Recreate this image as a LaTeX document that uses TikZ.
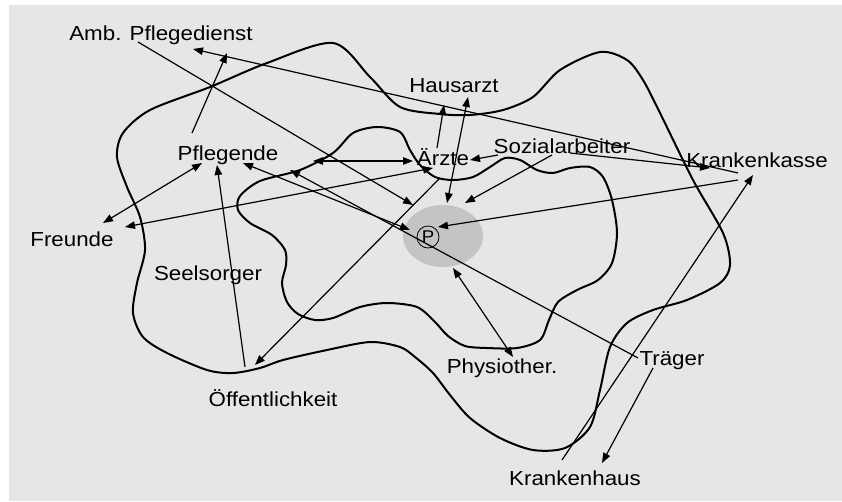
\documentclass[tikz,border=0pt]{standalone}
\usepackage{fontspec}
\setmainfont{Liberation Sans}[FakeStretch=1.1]
\usetikzlibrary{arrows.meta}
\definecolor{bg}{HTML}{E6E6E6}
\definecolor{pgray}{HTML}{C4C4C4}
\begin{document}
\begin{tikzpicture}[x=1pt,y=-1pt,
  lbl/.style={anchor=base, inner sep=0pt, font=\fontsize{20.3}{24}\selectfont},
  conn/.style={line width=1.2pt, -{Triangle[length=10pt,width=7.5pt]}},
  both/.style={line width=1.2pt, {Triangle[length=10pt,width=7.5pt]}-{Triangle[length=10pt,width=7.5pt]}},
  curve/.style={line width=2pt, line join=round}]
\useasboundingbox (0,0) rectangle (842,501);
\fill[white] (0,0) rectangle (842,501);
\fill[bg] (9,5) rectangle (842,501);

% patient area
\fill[pgray] (443,236) ellipse [x radius=40pt, y radius=31pt];

% outer boundary
\draw[curve] plot[smooth cycle] coordinates {
 (333,43) (370,77) (400,107) (440,114) (470,115) (503,110) (533,97) (560,70)
 (600,52) (627,60) (643,80) (660,113) (693,180) (723,233) (730,265) (720,283)
 (687,300) (653,310) (627,323) (610,347) (600,390) (590,427) (565,448) (533,450)
 (500,438) (470,418) (450,395) (433,373) (415,357) (400,347) (370,342) (327,350)
 (283,360) (260,368) (233,373) (207,370) (167,353) (143,337) (133,313) (137,283)
 (145,250) (140,217) (127,187) (117,157) (123,133) (150,110) (210,87) (267,63)};

% inner boundary
\draw[curve] plot[smooth cycle] coordinates {
 (377,127) (400,132) (410,150) (420,165) (435,177) (453,180) (473,177) (490,167)
 (505,158) (520,160) (537,170) (553,173) (570,168) (590,167) (603,177) (612,200)
 (617,233) (612,263) (598,280) (577,290) (558,302) (549,320) (540,340) (517,348)
 (487,348) (465,346) (448,336) (435,322) (417,307) (387,303) (360,307) (333,318)
 (315,320) (298,314) (287,302) (282,283) (286,265) (285,250) (272,235) (250,223)
 (238,210) (240,196) (260,181) (300,170) (333,153) (353,133)};

% labels
\node[lbl] (amb) at (161,40.5) {Amb. Pflegedienst};
\node[lbl] (haus) at (454,92) {Hausarzt};
\node[lbl] (pfl) at (228,160) {Pflegende};
\node[lbl] (aerzte) at (443,165) {Ärzte};
\node[lbl] (sozial) at (562,153) {Sozialarbeiter};
\node[lbl] (kk) at (757,167) {Krankenkasse};
\node[lbl] (freunde) at (72,246) {Freunde};
\node[lbl] (seel) at (208,280) {Seelsorger};
\node[lbl] (oeff) at (273,406) {Öffentlichkeit};
\node[lbl] (physio) at (502,373) {Physiother.};
\node[lbl] (traeger) at (672,365) {Träger};
\node[lbl] (kh) at (575,485) {Krankenhaus};
\node[circle, draw, line width=0.8pt, minimum size=22pt, inner sep=0pt,
      font=\fontsize{17}{17}\selectfont] (P) at (428,237) {P};

% connector end points
\coordinate (ambA) at (138,42);   \coordinate (pA) at (413,205);
\coordinate (kkA) at (738,173);   \coordinate (ambB) at (193,49);
\coordinate (pflA) at (192,133);  \coordinate (ambC) at (227,53);
\coordinate (sozA) at (570,153);  \coordinate (kkB) at (710,168);
\coordinate (sozB) at (498,155);  \coordinate (aeA) at (470,160);
\coordinate (sozC) at (552,155);  \coordinate (pB) at (465,203);
\coordinate (kkC) at (738,180);   \coordinate (pC) at (438,227);
\coordinate (khA) at (562,460);   \coordinate (kkD) at (753,175);
\coordinate (trA) at (653,368);   \coordinate (khB) at (602,463);
\coordinate (trB) at (638,358);   \coordinate (pflB) at (290,170);
\coordinate (pflC) at (243,163);  \coordinate (pD) at (410,230);
\coordinate (pflD) at (313,161);  \coordinate (aeB) at (413,161);
\coordinate (aeC) at (437,148);   \coordinate (hausA) at (444,105);
\coordinate (hausB) at (468,97);  \coordinate (pE) at (447,203);
\coordinate (frA) at (103,223);   \coordinate (pflE) at (202,163);
\coordinate (frB) at (125,227);   \coordinate (aeD) at (433,168);
\coordinate (oeA) at (245,367);   \coordinate (pflF) at (217,165);
\coordinate (aeE) at (440,178);   \coordinate (oeB) at (255,365);
\coordinate (pF) at (453,268);    \coordinate (phA) at (513,357);

% connectors
\draw[conn] (ambA) -- (pA);
\draw[conn] (kkA) -- (ambB);
\draw[conn] (pflA) -- (ambC);
\draw[conn] (sozA) -- (kkB);
\draw[conn] (sozB) -- (aeA);
\draw[conn] (sozC) -- (pB);
\draw[conn] (kkC) -- (pC);
\draw[conn] (khA) -- (kkD);
\draw[conn] (trA) -- (khB);
\draw[conn] (trB) -- (pflB);
\draw[both] (pflC) -- (pD);
\draw[both] (pflD) -- (aeB);
\draw[conn] (aeC) -- (hausA);
\draw[both] (hausB) -- (pE);
\draw[both] (frA) -- (pflE);
\draw[both] (frB) -- (aeD);
\draw[conn] (oeA) -- (pflF);
\draw[conn] (aeE) -- (oeB);
\draw[both] (pF) -- (phA);
\end{tikzpicture}
\end{document}
